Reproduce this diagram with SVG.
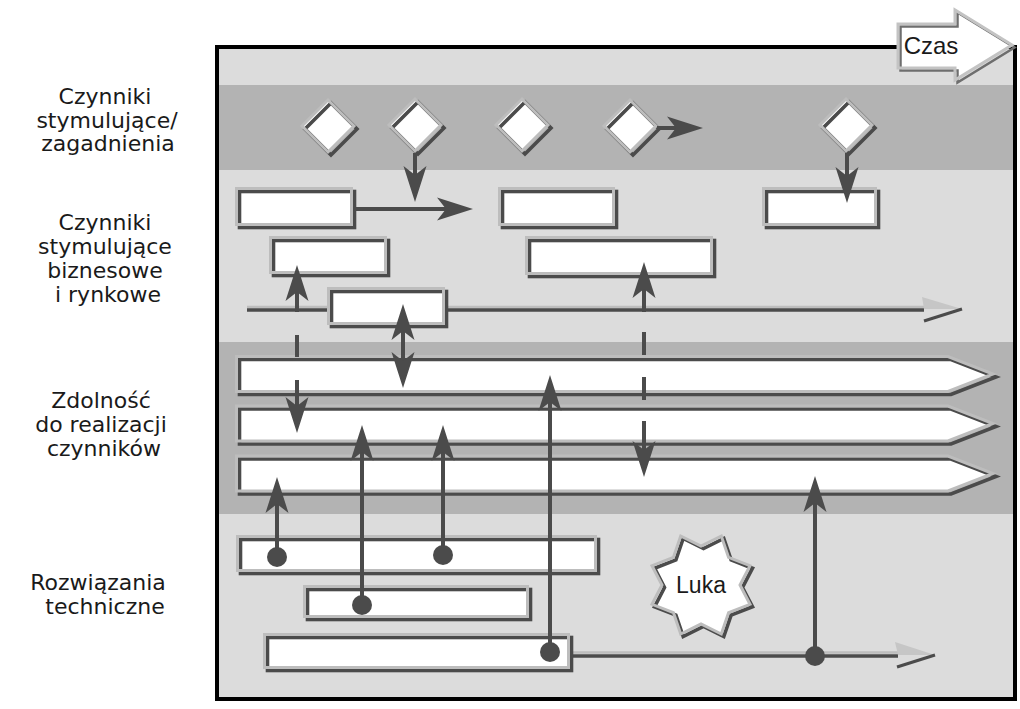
<svg xmlns="http://www.w3.org/2000/svg" width="1020" height="709" viewBox="0 0 1020 709">
<defs>
<style>
.lbl{font-family:"DejaVu Sans",Verdana,sans-serif;font-size:22px;fill:#1a1a1a;text-anchor:middle}
.tx{font-family:"Liberation Sans",Arial,sans-serif;font-size:23px;fill:#1a1a1a;text-anchor:middle}
.wf{fill:#fff;stroke:none}
.sh{fill:none;stroke:#4b4b4b;stroke-width:3.6}
.lt{fill:none;stroke:#bdbdbd;stroke-width:3}
.shc{fill:none;stroke:#6e6e6e;stroke-width:2.5}
.ltc{fill:none;stroke:#c3c3c3;stroke-width:3}
.cn{fill:none;stroke:#4b4b4b;stroke-width:4}
.dot{fill:#4b4b4b}
.tl-lt{fill:none;stroke:#bdbdbd;stroke-width:2.5}
.tl-dk{fill:none;stroke:#4b4b4b;stroke-width:3.5}
.hd-lt{fill:#c6c6c6;stroke:none}
.hd-dk{fill:none;stroke:#4b4b4b;stroke-width:3}
</style>
<marker id="ah" markerUnits="userSpaceOnUse" markerWidth="40" markerHeight="26" viewBox="-38 -13 40 26" refX="-20" refY="0" orient="auto-start-reverse">
<path d="M0,0 L-36,-11.5 L-27,0 L-36,11.5 Z" fill="#4b4b4b"/>
</marker>
</defs>

<!-- background bands and frame -->
<rect x="217" y="47" width="798" height="652" fill="#dcdcdc"/>
<rect x="217" y="85" width="798" height="85" fill="#b3b3b3"/>
<rect x="217" y="342" width="798" height="172" fill="#b3b3b3"/>
<rect x="217" y="47" width="798" height="652" fill="none" stroke="#000" stroke-width="4"/>

<!-- row labels -->
<g id="label-issues">
<text class="lbl" x="105" y="104">Czynniki</text>
<text class="lbl" x="107" y="128">stymulujące/</text>
<text class="lbl" x="108" y="151">zagadnienia</text>
</g>
<g id="label-business">
<text class="lbl" x="105" y="230">Czynniki</text>
<text class="lbl" x="105" y="254">stymulujące</text>
<text class="lbl" x="105" y="278">biznesowe</text>
<text class="lbl" x="108" y="302">i rynkowe</text>
</g>
<g id="label-capability">
<text class="lbl" x="101" y="408">Zdolność</text>
<text class="lbl" x="101" y="432">do realizacji</text>
<text class="lbl" x="104" y="456">czynników</text>
</g>
<g id="label-tech">
<text class="lbl" x="98" y="590">Rozwiązania</text>
<text class="lbl" x="105" y="614">techniczne</text>
</g>

<!-- time arrow -->
<g id="czas">
<path class="wf" d="M898,24 H955 V10 L1012,45 L955,80 V68 H898 Z"/>
<path class="shc" transform="translate(2.5,2.5)" d="M898,24 H955 V10 L1012,45 L955,80 V68 H898 Z"/>
<path class="ltc" d="M898,24 H955 V10 L1012,45 L955,80 V68 H898 Z"/>
<text class="tx" x="931" y="54" style="font-size:24px">Czas</text>
</g>

<!-- timelines (behind nodes) -->
<g id="timelines">
<path class="tl-lt" d="M247,307 H924"/>
<path class="tl-dk" d="M247,310 H924"/>
<polygon class="hd-lt" points="922,297 962,309 924,309"/>
<path class="hd-dk" d="M924,321 L962,309"/>
<path class="tl-lt" d="M572,652.5 H898"/>
<path class="tl-dk" d="M572,656 H898"/>
<polygon class="hd-lt" points="895,642 935,655 898,655"/>
<path class="hd-dk" d="M897,667 L935,655"/>
</g>

<!-- diamonds -->
<g id="d1"><path class="wf" d="M328,100 L354,126 L328,152 L302,126 Z"/><path class="sh" transform="translate(3,3)" d="M328,100 L354,126 L328,152 L302,126 Z"/><path class="lt" d="M328,100 L354,126 L328,152 L302,126 Z"/></g>
<g id="d2"><path class="wf" d="M415,99 L441,125 L415,151 L389,125 Z"/><path class="sh" transform="translate(3,3)" d="M415,99 L441,125 L415,151 L389,125 Z"/><path class="lt" d="M415,99 L441,125 L415,151 L389,125 Z"/></g>
<g id="d3"><path class="wf" d="M522,99 L548,125 L522,151 L496,125 Z"/><path class="sh" transform="translate(3,3)" d="M522,99 L548,125 L522,151 L496,125 Z"/><path class="lt" d="M522,99 L548,125 L522,151 L496,125 Z"/></g>
<g id="d4"><path class="wf" d="M630,100 L656,126 L630,152 L604,126 Z"/><path class="sh" transform="translate(3,3)" d="M630,100 L656,126 L630,152 L604,126 Z"/><path class="lt" d="M630,100 L656,126 L630,152 L604,126 Z"/></g>
<g id="d5"><path class="wf" d="M846,99 L872,125 L846,151 L820,125 Z"/><path class="sh" transform="translate(3,3)" d="M846,99 L872,125 L846,151 L820,125 Z"/><path class="lt" d="M846,99 L872,125 L846,151 L820,125 Z"/></g>

<!-- business boxes -->
<g id="b1"><rect class="wf" x="236.5" y="188.5" width="115" height="36"/><rect class="sh" transform="translate(3,3)" x="236.5" y="188.5" width="115" height="36"/><rect class="lt" x="236.5" y="188.5" width="115" height="36"/></g>
<g id="b2"><rect class="wf" x="499.5" y="188.5" width="114" height="36"/><rect class="sh" transform="translate(3,3)" x="499.5" y="188.5" width="114" height="36"/><rect class="lt" x="499.5" y="188.5" width="114" height="36"/></g>
<g id="b3"><rect class="wf" x="763.5" y="188.5" width="112" height="36"/><rect class="sh" transform="translate(3,3)" x="763.5" y="188.5" width="112" height="36"/><rect class="lt" x="763.5" y="188.5" width="112" height="36"/></g>
<g id="b4"><rect class="wf" x="270.5" y="237.5" width="115" height="35"/><rect class="sh" transform="translate(3,3)" x="270.5" y="237.5" width="115" height="35"/><rect class="lt" x="270.5" y="237.5" width="115" height="35"/></g>
<g id="b5"><rect class="wf" x="526.5" y="237.5" width="185" height="36"/><rect class="sh" transform="translate(3,3)" x="526.5" y="237.5" width="185" height="36"/><rect class="lt" x="526.5" y="237.5" width="185" height="36"/></g>
<g id="b6"><rect class="wf" x="328.5" y="288.5" width="115" height="35"/><rect class="sh" transform="translate(3,3)" x="328.5" y="288.5" width="115" height="35"/><rect class="lt" x="328.5" y="288.5" width="115" height="35"/></g>

<!-- capability arrows -->
<g id="c1"><path class="wf" d="M236.5,356.5 H948 L993,374 L948,391.5 H236.5 Z"/><path class="sh" transform="translate(3,3)" d="M236.5,356.5 H948 L993,374 L948,391.5 H236.5 Z"/><path class="lt" d="M236.5,356.5 H948 L993,374 L948,391.5 H236.5 Z"/></g>
<g id="c2"><path class="wf" d="M236.5,406 H948 L993,423.5 L948,441 H236.5 Z"/><path class="sh" transform="translate(3,3)" d="M236.5,406 H948 L993,423.5 L948,441 H236.5 Z"/><path class="lt" d="M236.5,406 H948 L993,423.5 L948,441 H236.5 Z"/></g>
<g id="c3"><path class="wf" d="M236.5,456 H948 L993,473.5 L948,491 H236.5 Z"/><path class="sh" transform="translate(3,3)" d="M236.5,456 H948 L993,473.5 L948,491 H236.5 Z"/><path class="lt" d="M236.5,456 H948 L993,473.5 L948,491 H236.5 Z"/></g>

<!-- technical solutions -->
<g id="t1"><rect class="wf" x="237.5" y="536.5" width="358" height="34"/><rect class="sh" transform="translate(3,3)" x="237.5" y="536.5" width="358" height="34"/><rect class="lt" x="237.5" y="536.5" width="358" height="34"/></g>
<g id="t2"><rect class="wf" x="304.5" y="586.5" width="223" height="30"/><rect class="sh" transform="translate(3,3)" x="304.5" y="586.5" width="223" height="30"/><rect class="lt" x="304.5" y="586.5" width="223" height="30"/></g>
<g id="t3"><rect class="wf" x="264.5" y="634.5" width="304" height="33"/><rect class="sh" transform="translate(3,3)" x="264.5" y="634.5" width="304" height="33"/><rect class="lt" x="264.5" y="634.5" width="304" height="33"/></g>

<!-- gap star -->
<g id="luka">
<polygon class="wf" points="680.7,536 701,546 721.3,536 728.6,557.4 750,565.7 740,585 750,604.3 728.6,612.6 721.3,634 701,624 680.7,634 673.4,612.6 652,604.3 662,585 652,565.7 673.4,557.4"/>
<polygon class="sh" transform="translate(2.5,2.5)" points="680.7,536 701,546 721.3,536 728.6,557.4 750,565.7 740,585 750,604.3 728.6,612.6 721.3,634 701,624 680.7,634 673.4,612.6 652,604.3 662,585 652,565.7 673.4,557.4"/>
<polygon class="lt" points="680.7,536 701,546 721.3,536 728.6,557.4 750,565.7 740,585 750,604.3 728.6,612.6 721.3,634 701,624 680.7,634 673.4,612.6 652,604.3 662,585 652,565.7 673.4,557.4"/>
<text class="tx" x="701" y="593">Luka</text>
</g>

<!-- connectors -->
<g id="connectors">
<path class="cn" d="M415,153 V182" marker-end="url(#ah)"/>
<path class="cn" d="M356,209 H453" marker-end="url(#ah)"/>
<path class="cn" d="M657,128 H683" marker-end="url(#ah)"/>
<path class="cn" d="M847,153 V183" marker-end="url(#ah)"/>

<path class="cn" d="M297,312 V285" marker-end="url(#ah)"/>
<path class="cn" d="M297,335 V357"/>
<path class="cn" d="M297,380 V413" marker-end="url(#ah)"/>

<path class="cn" d="M403,324 V368" marker-start="url(#ah)" marker-end="url(#ah)"/>

<path class="cn" d="M644,312 V282" marker-end="url(#ah)"/>
<path class="cn" d="M644,332 V355"/>
<path class="cn" d="M644,377 V400"/>
<path class="cn" d="M644,421 V457" marker-end="url(#ah)"/>

<path class="cn" d="M277,557 V497" marker-end="url(#ah)"/>
<path class="cn" d="M362,605 V445" marker-end="url(#ah)"/>
<path class="cn" d="M443,555 V445" marker-end="url(#ah)"/>
<path class="cn" d="M550,652 V395" marker-end="url(#ah)"/>
<path class="cn" d="M815,656 V496" marker-end="url(#ah)"/>
<circle class="dot" cx="277" cy="557" r="10"/>
<circle class="dot" cx="362" cy="605" r="10"/>
<circle class="dot" cx="443" cy="555" r="10"/>
<circle class="dot" cx="550" cy="652" r="10"/>
<circle class="dot" cx="815" cy="656" r="10"/>
</g>
</svg>
